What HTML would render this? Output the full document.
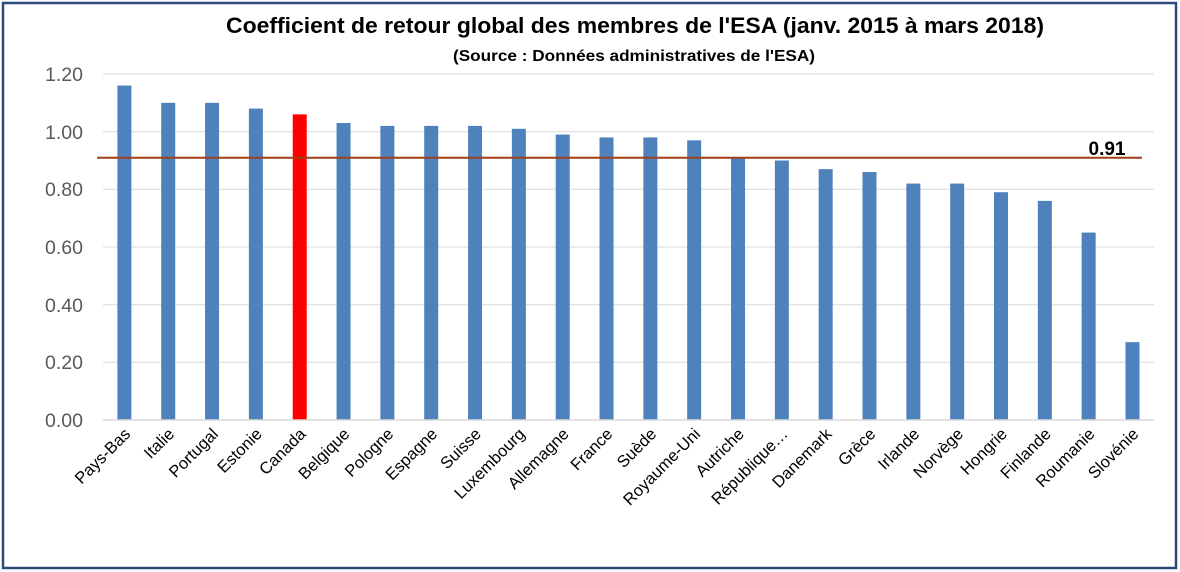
<!DOCTYPE html>
<html><head><style>
html,body{margin:0;padding:0;background:#fff}
svg{display:block}
text{font-family:"Liberation Sans",Calibri,sans-serif}
</style></head><body>
<svg width="1180" height="572" viewBox="0 0 1180 572" xmlns="http://www.w3.org/2000/svg">
<rect x="3" y="3" width="1173" height="565" fill="#fff" stroke="#2f4b7c" stroke-width="2.5"/>
<text x="635" y="33" text-anchor="middle" font-size="22.5" font-weight="bold" fill="#000" textLength="818" lengthAdjust="spacingAndGlyphs">Coefficient de retour global des membres de l'ESA (janv. 2015 à mars 2018)</text>
<text x="634" y="61" text-anchor="middle" font-size="16" font-weight="bold" fill="#000" textLength="362" lengthAdjust="spacingAndGlyphs">(Source : Données administratives de l'ESA)</text>
<g stroke="#d9d9d9" stroke-width="1">
<line x1="103" x2="1154" y1="74" y2="74"/>
<line x1="103" x2="1154" y1="131.7" y2="131.7"/>
<line x1="103" x2="1154" y1="189.3" y2="189.3"/>
<line x1="103" x2="1154" y1="247" y2="247"/>
<line x1="103" x2="1154" y1="304.7" y2="304.7"/>
<line x1="103" x2="1154" y1="362.3" y2="362.3"/>
</g>
<g font-size="19.5" fill="#595959" text-anchor="end">
<text x="83" y="81">1.20</text>
<text x="83" y="139">1.00</text>
<text x="83" y="196">0.80</text>
<text x="83" y="254">0.60</text>
<text x="83" y="312">0.40</text>
<text x="83" y="369">0.20</text>
<text x="83" y="427">0.00</text>
</g>
<g id="bars"></g>
<line x1="103" x2="1154" y1="420" y2="420" stroke="#d9d9d9" stroke-width="1.5"/>
<line x1="97" x2="1142" y1="157.8" y2="157.8" stroke="#a0401a" stroke-width="2"/>
<text x="1107" y="155" text-anchor="middle" font-size="19" font-weight="bold" fill="#000">0.91</text>
<g id="labels" font-size="16.5" fill="#000" text-anchor="end"></g>
</svg>
<script>
var names=["Pays-Bas","Italie","Portugal","Estonie","Canada","Belgique","Pologne","Espagne","Suisse","Luxembourg","Allemagne","France","Suède","Royaume-Uni","Autriche","République…","Danemark","Grèce","Irlande","Norvège","Hongrie","Finlande","Roumanie","Slovénie"];
var vals=[1.16,1.10,1.10,1.08,1.06,1.03,1.02,1.02,1.02,1.01,0.99,0.98,0.98,0.97,0.91,0.90,0.87,0.86,0.82,0.82,0.79,0.76,0.65,0.27];
var ns="http://www.w3.org/2000/svg",b=document.getElementById("bars"),l=document.getElementById("labels");
for(var i=0;i<24;i++){var cx=124.4+i*43.83,h=vals[i]*288.33;
var r=document.createElementNS(ns,"rect");r.setAttribute("x",cx-7);r.setAttribute("y",420-h);r.setAttribute("width",14);r.setAttribute("height",h);r.setAttribute("fill",i==4?"#ff0000":"#4f81bd");b.appendChild(r);
var t=document.createElementNS(ns,"text");var tx=cx+7,ty=435;t.setAttribute("x",tx);t.setAttribute("y",ty);t.setAttribute("transform","rotate(-45 "+tx+" "+ty+")");t.textContent=names[i];l.appendChild(t);}
</script>
</body></html>
